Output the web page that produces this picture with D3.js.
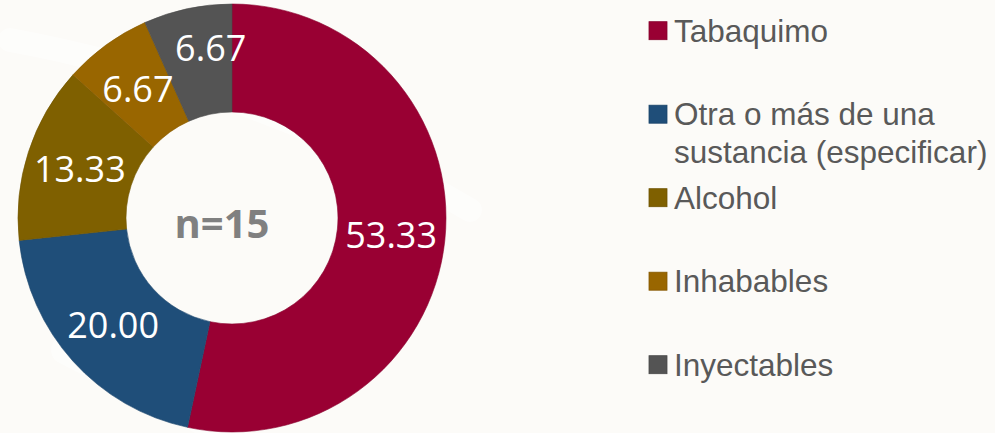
<!DOCTYPE html>
<html>
<head>
<meta charset="utf-8">
<script src="https://cdn.jsdelivr.net/npm/d3@7"></script>
<style>
	body { margin: 0; background: #fcfbf8; }
	svg { display: block; }
</style>
</head>
<body>
<script>
var width = 995,
		height = 433;

// Chart data
var categories = ["Tabaquimo", "Otra o más de una sustancia (especificar)", "Alcohol", "Inhabables", "Inyectables"];
var values = [53.33, 20.00, 13.33, 6.67, 6.67];
var colors = ["#990033", "#1f4e79", "#7f6000", "#996600", "#545454"];
// legend lines (long label wraps to two lines)
var legendLines = [["Tabaquimo"], ["Otra o más de una", "sustancia (especificar)"], ["Alcohol"], ["Inhabables"], ["Inyectables"]];
var centerLabel = "n=15";

var cx = 232, cy = 218,
		outerR = 214, innerR = 106;

var svg = d3.select("body").append("svg")
		.attr("width", width)
		.attr("height", height);

// faint background strokes
var bg = svg.append("g").attr("fill", "none").attr("stroke", "#ffffff").attr("stroke-linecap", "round");
bg.append("path").attr("d", "M10,40 C120,60 300,110 470,210").attr("stroke-width", 24).attr("opacity", 0.45);
bg.append("path").attr("d", "M65,350 L220,430").attr("stroke-width", 28).attr("opacity", 0.45);

var color = d3.scaleOrdinal().domain(categories).range(colors);

var pie = d3.pie()
		.sort(null)
		.value(function(d, i) { return values[i]; });

var arc = d3.arc()
		.innerRadius(innerR)
		.outerRadius(outerR);

var labelArc = d3.arc()
		.innerRadius((innerR + outerR) / 2)
		.outerRadius((innerR + outerR) / 2);

var g = svg.append("g")
		.attr("transform", "translate(" + cx + "," + cy + ")");

var arcs = pie(categories);

g.selectAll(".slice")
		.data(arcs)
		.enter().append("path")
		.attr("class", "slice")
		.attr("d", arc)
		.attr("fill", function(d) { return color(d.data); })
		.attr("stroke", function(d) { return d3.color(color(d.data)).darker(0.3); })
		.attr("stroke-width", 0.6);

// nudge for the small last slice label
var nudge = [[0, 0], [0, 0], [0, 0], [0, 0], [12, -13]];

g.selectAll(".value")
		.data(arcs)
		.enter().append("text")
		.attr("class", "value")
		.attr("transform", function(d, i) {
			var c = labelArc.centroid(d);
			return "translate(" + (c[0] + nudge[i][0]) + "," + (c[1] + nudge[i][1]) + ")";
		})
		.attr("dy", "0.36em")
		.style("text-anchor", "middle")
		.style("font-family", "'Open Sans', sans-serif")
		.style("font-size", "36px")
		.style("fill", "#ffffff")
		.text(function(d, i) { return values[i].toFixed(2); });

// Center text
g.append("text")
		.attr("x", -10)
		.attr("y", 20)
		.style("text-anchor", "middle")
		.style("font-family", "'Open Sans', sans-serif")
		.style("font-weight", "bold")
		.style("font-size", "40px")
		.style("fill", "#808080")
		.text(centerLabel);

// Legend
var legend = svg.selectAll(".legend")
		.data(categories)
		.enter().append("g")
		.attr("class", "legend")
		.attr("transform", function(d, i) { return "translate(649," + (41.7 + i * 83.5) + ")"; });

legend.append("rect")
		.attr("x", 0)
		.attr("y", -20)
		.attr("width", 18)
		.attr("height", 18)
		.attr("fill", function(d) { return color(d); })
		.attr("stroke", function(d) { return d3.color(color(d)).darker(0.4); })
		.attr("stroke-width", 0.8);

legend.append("text")
		.style("font-family", "'Liberation Sans', Arial, sans-serif")
		.style("font-size", "31.5px")
		.style("fill", "#595959")
		.selectAll("tspan")
		.data(function(d, i) { return legendLines[i]; })
		.enter().append("tspan")
		.attr("x", 25)
		.attr("y", function(d, j) { return j * 37.7; })
		.text(function(d) { return d; });
</script>
</body>
</html>
